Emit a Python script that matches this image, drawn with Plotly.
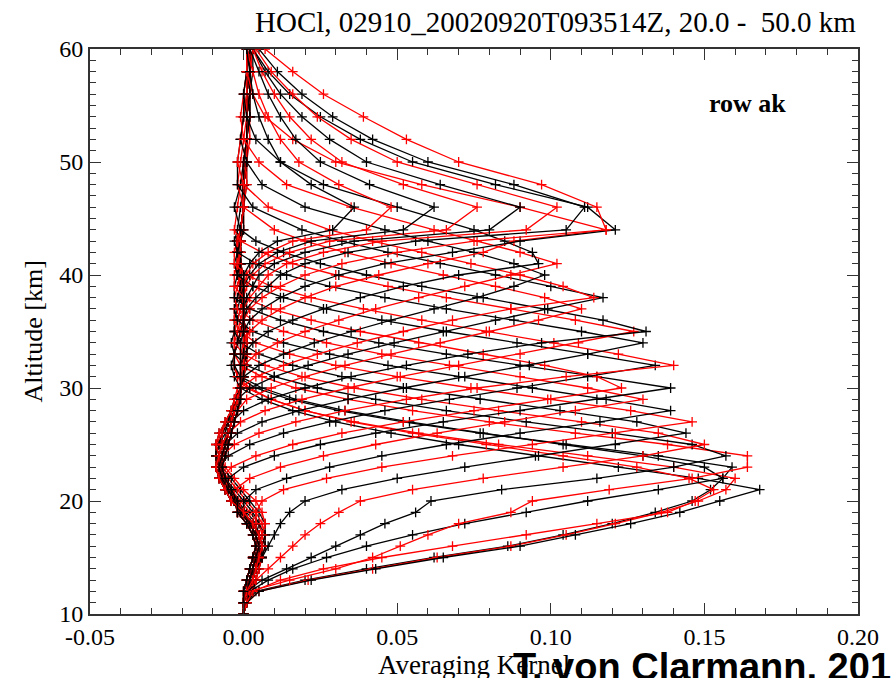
import plotly.graph_objects as go

# Altitude grid [km]: 1 km steps to 44 km, 2 km steps above
altitude = [10, 11, 12, 13, 14, 15, 16, 17, 18, 19,
            20, 21, 22, 23, 24, 25, 26, 27, 28, 29,
            30, 31, 32, 33, 34, 35, 36, 37, 38, 39,
            40, 41, 42, 43, 44,
            46, 48, 50, 52, 54, 56, 58, 60]

# Averaging kernel rows (values at each altitude above)
row_10 = [0.000, 0.001, 0.002, 0.003, 0.004, 0.005, 0.005, 0.004, 0.002, 0.000,
          -0.002, -0.004, -0.006, -0.007, -0.007, -0.006, -0.005, -0.004, -0.003, -0.002,
          -0.001, 0.000, 0.000, 0.000, 0.000, 0.000, 0.000, 0.000, -0.001, -0.001,
          -0.001, -0.001, -0.001, -0.001, -0.001,
          0.000, 0.000, 0.000, 0.001, 0.001, 0.001, 0.001, 0.001]
row_11 = [0.000, 0.001, 0.003, 0.004, 0.005, 0.006, 0.006, 0.005, 0.003, 0.000,
          -0.002, -0.005, -0.007, -0.008, -0.008, -0.007, -0.005, -0.004, -0.003, -0.002,
          -0.001, 0.000, 0.000, 0.001, 0.001, 0.000, 0.000, 0.000, -0.001, -0.001,
          -0.001, -0.002, -0.002, -0.001, -0.001,
          0.000, 0.000, 0.001, 0.001, 0.001, 0.001, 0.002, 0.002]
row_12 = [0.000, 0.001, 0.003, 0.004, 0.005, 0.006, 0.006, 0.005, 0.004, 0.001,
          -0.002, -0.005, -0.008, -0.009, -0.009, -0.008, -0.006, -0.005, -0.003, -0.002,
          -0.001, 0.000, 0.001, 0.001, 0.001, 0.001, 0.000, 0.000, -0.001, -0.001,
          -0.002, -0.002, -0.002, -0.002, -0.001,
          0.000, 0.001, 0.001, 0.001, 0.002, 0.002, 0.002, 0.002]
row_13 = [0.000, 0.001, 0.002, 0.004, 0.005, 0.006, 0.007, 0.006, 0.005, 0.002,
          -0.001, -0.004, -0.007, -0.009, -0.009, -0.008, -0.007, -0.005, -0.004, -0.002,
          -0.001, 0.000, 0.001, 0.001, 0.001, 0.001, 0.000, 0.000, -0.001, -0.001,
          -0.002, -0.002, -0.002, -0.002, -0.001,
          0.000, 0.001, 0.001, 0.002, 0.002, 0.002, 0.002, 0.002]
row_14 = [0.000, 0.001, 0.002, 0.003, 0.004, 0.006, 0.007, 0.007, 0.005, 0.003,
          0.000, -0.003, -0.006, -0.008, -0.009, -0.008, -0.007, -0.005, -0.004, -0.002,
          -0.001, 0.000, 0.000, 0.001, 0.001, 0.001, 0.000, 0.000, -0.001, -0.001,
          -0.001, -0.002, -0.002, -0.002, -0.001,
          0.000, 0.000, 0.001, 0.001, 0.002, 0.002, 0.002, 0.003]
row_15 = [0.000, 0.000, 0.001, 0.002, 0.003, 0.005, 0.006, 0.007, 0.006, 0.004,
          0.001, -0.002, -0.005, -0.008, -0.009, -0.009, -0.007, -0.006, -0.004, -0.003,
          -0.001, 0.000, 0.000, 0.001, 0.001, 0.001, 0.000, 0.000, -0.001, -0.001,
          -0.001, -0.002, -0.002, -0.002, -0.001,
          0.000, 0.000, 0.001, 0.001, 0.001, 0.002, 0.002, 0.003]
row_16 = [0.000, 0.000, 0.001, 0.002, 0.003, 0.004, 0.006, 0.007, 0.007, 0.005,
          0.002, -0.001, -0.004, -0.007, -0.009, -0.009, -0.008, -0.006, -0.004, -0.003,
          -0.001, 0.000, 0.000, 0.001, 0.001, 0.000, 0.000, 0.000, -0.001, -0.001,
          -0.001, -0.001, -0.002, -0.002, -0.001,
          0.000, 0.000, 0.001, 0.001, 0.002, 0.002, 0.003, 0.003]
row_17 = [0.000, 0.000, 0.001, 0.002, 0.003, 0.004, 0.005, 0.006, 0.007, 0.006,
          0.004, 0.000, -0.003, -0.006, -0.008, -0.009, -0.008, -0.006, -0.004, -0.003,
          -0.002, 0.000, 0.000, 0.000, 0.001, 0.000, 0.000, 0.000, 0.000, -0.001,
          -0.001, -0.001, -0.002, -0.002, -0.001,
          0.000, 0.000, 0.001, 0.001, 0.001, 0.002, 0.002, 0.003]
row_18 = [0.000, 0.001, 0.004, 0.020, 0.040, 0.062, 0.086, 0.104, 0.120, 0.134,
          0.146, 0.152, 0.156, 0.159, 0.135, 0.105, 0.077, 0.052, 0.031, 0.015,
          0.004, -0.002, -0.003, -0.003, -0.002, -0.001, 0.000, 0.000, 0.000, 0.000,
          0.000, -0.001, -0.001, -0.001, -0.001,
          0.000, 0.000, 0.001, 0.001, 0.001, 0.001, 0.002, 0.002]
row_19 = [0.000, 0.001, 0.005, 0.021, 0.042, 0.063, 0.087, 0.105, 0.121, 0.136,
          0.148, 0.157, 0.160, 0.140, 0.112, 0.083, 0.057, 0.036, 0.020, 0.009,
          0.001, -0.002, -0.003, -0.003, -0.002, -0.001, 0.000, 0.000, 0.000, 0.000,
          0.000, -0.001, -0.001, -0.001, 0.000,
          0.000, 0.000, 0.000, 0.001, 0.001, 0.001, 0.001, 0.001]
row_20 = [0.000, 0.001, 0.005, 0.022, 0.043, 0.065, 0.090, 0.108, 0.126, 0.142,
          0.155, 0.168, 0.148, 0.122, 0.095, 0.070, 0.048, 0.030, 0.016, 0.006,
          -0.001, -0.003, -0.004, -0.003, -0.002, -0.001, 0.000, 0.000, 0.000, 0.000,
          -0.001, -0.001, -0.001, -0.001, 0.000,
          0.000, 0.000, 0.001, 0.001, 0.001, 0.001, 0.002, 0.002]
row_21 = [0.000, 0.001, 0.003, 0.012, 0.026, 0.045, 0.068, 0.092, 0.115, 0.138,
          0.147, 0.153, 0.145, 0.128, 0.104, 0.079, 0.055, 0.035, 0.020, 0.009,
          0.002, -0.002, -0.003, -0.003, -0.002, -0.001, 0.000, 0.000, 0.000, 0.000,
          -0.001, -0.001, -0.002, -0.001, -0.001,
          0.000, 0.000, 0.001, 0.001, 0.001, 0.001, 0.002, 0.002]
row_22 = [0.000, 0.000, 0.002, 0.008, 0.016, 0.027, 0.040, 0.055, 0.072, 0.092,
          0.112, 0.135, 0.156, 0.150, 0.130, 0.104, 0.078, 0.054, 0.033, 0.017,
          0.006, -0.001, -0.003, -0.003, -0.002, -0.001, 0.000, 0.000, 0.000, 0.000,
          -0.001, -0.001, -0.002, -0.002, -0.001,
          0.000, 0.000, 0.001, 0.001, 0.001, 0.002, 0.002, 0.002]
row_23 = [0.000, 0.000, 0.002, 0.015, 0.030, 0.042, 0.051, 0.060, 0.070, 0.087,
          0.094, 0.119, 0.146, 0.164, 0.164, 0.138, 0.108, 0.080, 0.055, 0.034,
          0.017, 0.006, -0.001, -0.003, -0.003, -0.002, -0.001, 0.000, 0.000, 0.000,
          -0.001, -0.001, -0.002, -0.002, -0.001,
          0.000, 0.000, 0.001, 0.001, 0.001, 0.002, 0.002, 0.002]
row_24 = [0.000, 0.000, 0.001, 0.006, 0.014, 0.022, 0.030, 0.038, 0.046, 0.056,
          0.061, 0.084, 0.115, 0.140, 0.157, 0.146, 0.120, 0.092, 0.066, 0.043,
          0.024, 0.010, 0.001, -0.003, -0.004, -0.003, -0.002, -0.001, 0.000, 0.000,
          -0.001, -0.001, -0.002, -0.002, -0.001,
          0.000, 0.000, 0.001, 0.001, 0.001, 0.002, 0.002, 0.002]
row_25 = [0.000, 0.000, 0.001, 0.004, 0.008, 0.012, 0.016, 0.020, 0.025, 0.031,
          0.038, 0.055, 0.078, 0.104, 0.130, 0.150, 0.135, 0.110, 0.083, 0.058,
          0.036, 0.019, 0.007, 0.000, -0.003, -0.003, -0.002, -0.001, 0.000, 0.000,
          -0.001, -0.001, -0.002, -0.002, -0.001,
          0.000, 0.000, 0.000, 0.001, 0.001, 0.001, 0.002, 0.002]
row_26 = [0.000, 0.000, 0.000, 0.002, 0.004, 0.006, 0.008, 0.010, 0.012, 0.015,
          0.020, 0.032, 0.050, 0.072, 0.096, 0.121, 0.144, 0.128, 0.103, 0.077,
          0.053, 0.032, 0.016, 0.005, -0.001, -0.003, -0.003, -0.002, -0.001, 0.000,
          -0.001, -0.001, -0.002, -0.002, -0.001,
          0.000, 0.000, 0.001, 0.001, 0.001, 0.001, 0.002, 0.002]
row_27 = [0.000, 0.000, 0.000, 0.001, 0.002, 0.003, 0.004, 0.004, 0.004, 0.004,
          0.006, 0.013, 0.027, 0.045, 0.068, 0.094, 0.121, 0.146, 0.126, 0.100,
          0.074, 0.050, 0.030, 0.015, 0.004, -0.001, -0.003, -0.003, -0.002, -0.001,
          -0.001, -0.001, -0.002, -0.002, -0.001,
          0.000, 0.000, 0.001, 0.001, 0.001, 0.002, 0.002, 0.002]
row_28 = [0.000, 0.000, 0.001, 0.002, 0.003, 0.004, 0.005, 0.004, 0.002, 0.000,
          0.000, 0.004, 0.014, 0.028, 0.045, 0.066, 0.090, 0.116, 0.139, 0.118,
          0.094, 0.070, 0.047, 0.028, 0.013, 0.003, -0.002, -0.003, -0.002, -0.001,
          -0.001, -0.001, -0.002, -0.002, -0.001,
          0.000, 0.000, 0.000, 0.001, 0.001, 0.001, 0.001, 0.002]
row_29 = [0.000, 0.000, 0.001, 0.002, 0.003, 0.004, 0.005, 0.004, 0.002, -0.001,
          -0.003, -0.003, 0.002, 0.012, 0.026, 0.043, 0.063, 0.085, 0.108, 0.130,
          0.112, 0.090, 0.067, 0.045, 0.027, 0.013, 0.003, -0.002, -0.003, -0.002,
          -0.001, -0.001, -0.002, -0.002, -0.001,
          0.000, 0.000, 0.001, 0.001, 0.001, 0.002, 0.002, 0.002]
row_30 = [0.000, 0.000, 0.001, 0.003, 0.004, 0.005, 0.006, 0.005, 0.003, 0.000,
          -0.003, -0.005, -0.005, 0.000, 0.010, 0.025, 0.043, 0.065, 0.090, 0.115,
          0.139, 0.115, 0.090, 0.066, 0.044, 0.026, 0.012, 0.002, -0.003, -0.003,
          -0.002, -0.001, -0.001, -0.001, -0.001,
          0.000, 0.000, 0.001, 0.001, 0.001, 0.002, 0.002, 0.002]
row_31 = [0.000, 0.000, 0.000, 0.001, 0.002, 0.003, 0.004, 0.003, 0.001, -0.002,
          -0.003, -0.005, -0.007, -0.004, 0.004, 0.016, 0.032, 0.052, 0.075, 0.099,
          0.123, 0.115, 0.098, 0.078, 0.057, 0.038, 0.022, 0.009, 0.000, -0.003,
          -0.003, -0.002, -0.001, -0.001, -0.001,
          0.000, 0.000, 0.000, 0.001, 0.001, 0.001, 0.002, 0.002]
row_32 = [0.000, 0.000, 0.001, 0.002, 0.003, 0.004, 0.005, 0.004, 0.002, -0.001,
          -0.003, -0.005, -0.007, -0.008, -0.005, 0.002, 0.013, 0.028, 0.046, 0.067,
          0.089, 0.112, 0.134, 0.112, 0.089, 0.066, 0.045, 0.027, 0.013, 0.003,
          -0.002, -0.003, -0.002, -0.001, -0.001,
          0.000, 0.000, 0.001, 0.001, 0.001, 0.002, 0.002, 0.002]
row_33 = [0.000, 0.000, 0.001, 0.003, 0.004, 0.005, 0.006, 0.005, 0.003, 0.000,
          -0.004, -0.006, -0.008, -0.009, -0.007, -0.003, 0.005, 0.017, 0.033, 0.053,
          0.076, 0.105, 0.140, 0.122, 0.101, 0.079, 0.058, 0.039, 0.022, 0.009,
          0.001, -0.003, -0.003, -0.002, -0.001,
          0.000, 0.000, 0.001, 0.001, 0.001, 0.001, 0.002, 0.002]
row_34 = [0.000, 0.000, 0.000, 0.001, 0.002, 0.003, 0.004, 0.003, 0.001, -0.002,
          -0.003, -0.005, -0.007, -0.008, -0.007, -0.006, -0.002, 0.006, 0.018, 0.034,
          0.052, 0.072, 0.093, 0.112, 0.130, 0.110, 0.088, 0.066, 0.046, 0.028,
          0.014, 0.004, -0.002, -0.003, -0.002,
          -0.001, 0.000, 0.000, 0.001, 0.001, 0.001, 0.001, 0.002]
row_35 = [0.000, 0.000, 0.001, 0.002, 0.003, 0.004, 0.005, 0.004, 0.002, -0.001,
          -0.003, -0.005, -0.007, -0.008, -0.007, -0.006, -0.005, -0.001, 0.007, 0.019,
          0.034, 0.051, 0.070, 0.090, 0.109, 0.127, 0.108, 0.087, 0.066, 0.047,
          0.030, 0.016, 0.006, -0.001, -0.003,
          -0.002, -0.001, 0.000, 0.001, 0.001, 0.001, 0.002, 0.002]
row_36 = [0.000, 0.000, 0.001, 0.003, 0.004, 0.005, 0.006, 0.005, 0.003, 0.000,
          -0.004, -0.006, -0.008, -0.009, -0.008, -0.007, -0.005, -0.004, 0.000, 0.008,
          0.020, 0.035, 0.053, 0.073, 0.097, 0.131, 0.117, 0.098, 0.078, 0.058,
          0.040, 0.025, 0.013, 0.004, -0.001,
          -0.003, -0.001, 0.000, 0.001, 0.001, 0.001, 0.002, 0.002]
row_37 = [0.000, 0.000, 0.000, 0.001, 0.002, 0.003, 0.004, 0.003, 0.001, -0.002,
          -0.002, -0.004, -0.006, -0.007, -0.006, -0.005, -0.004, -0.003, -0.002, 0.001,
          0.009, 0.020, 0.033, 0.048, 0.064, 0.080, 0.096, 0.110, 0.098, 0.082,
          0.065, 0.048, 0.033, 0.020, 0.010,
          0.000, -0.002, -0.001, 0.000, 0.001, 0.001, 0.001, 0.002]
row_38 = [0.000, 0.000, 0.001, 0.002, 0.003, 0.004, 0.005, 0.004, 0.002, -0.001,
          -0.003, -0.005, -0.007, -0.008, -0.007, -0.006, -0.005, -0.004, -0.003, -0.002,
          0.002, 0.010, 0.021, 0.034, 0.049, 0.065, 0.082, 0.099, 0.117, 0.100,
          0.082, 0.064, 0.047, 0.032, 0.019,
          0.003, -0.002, -0.002, -0.001, 0.000, 0.001, 0.001, 0.002]
row_39 = [0.000, 0.000, 0.001, 0.003, 0.004, 0.005, 0.006, 0.005, 0.003, 0.000,
          -0.004, -0.006, -0.008, -0.009, -0.008, -0.007, -0.005, -0.004, -0.003, -0.002,
          -0.001, 0.004, 0.013, 0.024, 0.037, 0.052, 0.068, 0.087, 0.114, 0.104,
          0.090, 0.074, 0.058, 0.042, 0.028,
          0.008, 0.000, -0.002, -0.001, 0.000, 0.001, 0.001, 0.002]
row_40 = [0.000, 0.000, 0.000, 0.001, 0.002, 0.003, 0.004, 0.003, 0.001, -0.002,
          -0.002, -0.004, -0.006, -0.007, -0.006, -0.005, -0.004, -0.003, -0.002, -0.001,
          -0.001, 0.000, 0.005, 0.013, 0.023, 0.035, 0.048, 0.062, 0.076, 0.088,
          0.098, 0.088, 0.075, 0.060, 0.046,
          0.020, 0.006, 0.001, -0.001, 0.000, 0.000, 0.001, 0.001]
row_41 = [0.000, 0.000, 0.001, 0.002, 0.003, 0.004, 0.005, 0.004, 0.002, -0.001,
          -0.003, -0.005, -0.007, -0.008, -0.007, -0.006, -0.005, -0.004, -0.003, -0.002,
          -0.001, 0.000, 0.000, 0.004, 0.011, 0.020, 0.031, 0.043, 0.057, 0.072,
          0.087, 0.102, 0.090, 0.076, 0.062,
          0.035, 0.014, 0.005, 0.000, -0.001, 0.000, 0.001, 0.001]
row_42 = [0.000, 0.000, 0.001, 0.003, 0.004, 0.005, 0.006, 0.005, 0.003, 0.000,
          -0.004, -0.006, -0.008, -0.009, -0.008, -0.007, -0.005, -0.004, -0.003, -0.002,
          -0.001, 0.000, 0.000, 0.000, 0.003, 0.008, 0.016, 0.026, 0.038, 0.052,
          0.070, 0.096, 0.094, 0.085, 0.075,
          0.050, 0.026, 0.012, 0.004, 0.001, 0.000, 0.001, 0.001]
row_43 = [0.000, 0.000, 0.000, 0.001, 0.002, 0.003, 0.004, 0.003, 0.001, -0.002,
          -0.002, -0.004, -0.006, -0.007, -0.006, -0.005, -0.004, -0.003, -0.002, -0.001,
          -0.001, 0.000, 0.000, 0.000, 0.000, 0.002, 0.006, 0.012, 0.020, 0.030,
          0.044, 0.060, 0.078, 0.088, 0.118,
          0.090, 0.058, 0.030, 0.016, 0.007, 0.003, 0.001, 0.001]
row_44 = [0.000, 0.000, 0.001, 0.002, 0.003, 0.004, 0.005, 0.004, 0.002, -0.001,
          -0.003, -0.005, -0.007, -0.008, -0.007, -0.006, -0.005, -0.004, -0.003, -0.002,
          -0.001, 0.000, 0.000, 0.000, 0.000, 0.000, 0.002, 0.006, 0.012, 0.020,
          0.031, 0.046, 0.068, 0.090, 0.121,
          0.112, 0.082, 0.055, 0.038, 0.025, 0.015, 0.008, 0.003]
row_46 = [0.000, 0.000, 0.001, 0.003, 0.004, 0.005, 0.006, 0.005, 0.003, 0.000,
          -0.004, -0.006, -0.008, -0.009, -0.008, -0.007, -0.005, -0.004, -0.003, -0.002,
          -0.001, 0.000, 0.000, 0.000, 0.000, 0.000, 0.000, 0.002, 0.006, 0.012,
          0.020, 0.032, 0.050, 0.075, 0.118,
          0.115, 0.097, 0.070, 0.053, 0.039, 0.026, 0.016, 0.007]
row_48 = [0.000, 0.000, 0.000, 0.001, 0.002, 0.003, 0.004, 0.003, 0.001, -0.002,
          -0.002, -0.004, -0.006, -0.007, -0.006, -0.005, -0.004, -0.003, -0.002, -0.001,
          -0.001, 0.000, 0.000, 0.000, 0.000, 0.000, 0.000, 0.001, 0.004, 0.008,
          0.012, 0.020, 0.034, 0.056, 0.105,
          0.111, 0.088, 0.060, 0.042, 0.029, 0.019, 0.011, 0.005]
row_50 = [0.000, 0.000, 0.001, 0.002, 0.003, 0.004, 0.005, 0.004, 0.002, -0.001,
          -0.003, -0.005, -0.007, -0.008, -0.007, -0.006, -0.005, -0.004, -0.003, -0.002,
          -0.001, 0.000, 0.000, 0.000, 0.000, 0.000, 0.000, 0.000, 0.002, 0.005,
          0.008, 0.014, 0.026, 0.045, 0.092,
          0.102, 0.076, 0.050, 0.035, 0.024, 0.016, 0.009, 0.004]
row_52 = [0.000, 0.000, 0.001, 0.003, 0.004, 0.005, 0.006, 0.005, 0.003, 0.000,
          -0.004, -0.006, -0.008, -0.009, -0.008, -0.007, -0.005, -0.004, -0.003, -0.002,
          -0.001, 0.000, 0.000, 0.000, 0.000, 0.000, 0.000, 0.000, 0.001, 0.003,
          0.005, 0.010, 0.020, 0.036, 0.080,
          0.090, 0.064, 0.040, 0.028, 0.019, 0.012, 0.007, 0.003]
row_54 = [0.000, 0.000, 0.000, 0.001, 0.002, 0.003, 0.004, 0.003, 0.001, -0.002,
          -0.002, -0.004, -0.006, -0.007, -0.006, -0.005, -0.004, -0.003, -0.002, -0.001,
          -0.001, -0.001, 0.000, 0.000, 0.000, 0.000, 0.000, 0.000, 0.000, 0.001,
          0.003, 0.007, 0.015, 0.028, 0.066,
          0.076, 0.052, 0.032, 0.022, 0.015, 0.010, 0.006, 0.003]
row_56 = [0.000, 0.000, 0.001, 0.002, 0.003, 0.004, 0.005, 0.004, 0.002, -0.001,
          -0.003, -0.005, -0.007, -0.008, -0.007, -0.006, -0.005, -0.004, -0.003, -0.002,
          -0.001, -0.001, -0.001, 0.000, 0.000, 0.000, 0.000, 0.000, 0.000, 0.000,
          0.002, 0.005, 0.011, 0.022, 0.052,
          0.062, 0.041, 0.025, 0.017, 0.012, 0.008, 0.005, 0.002]
row_58 = [0.000, 0.000, 0.001, 0.003, 0.004, 0.005, 0.006, 0.005, 0.003, 0.000,
          -0.004, -0.006, -0.008, -0.009, -0.008, -0.007, -0.005, -0.004, -0.003, -0.002,
          -0.001, -0.001, -0.001, -0.001, 0.000, 0.000, 0.000, 0.000, 0.000, 0.000,
          0.001, 0.003, 0.008, 0.016, 0.040,
          0.048, 0.031, 0.018, 0.012, 0.008, 0.005, 0.003, 0.001]
row_60 = [0.000, 0.000, 0.000, 0.001, 0.002, 0.003, 0.004, 0.003, 0.001, -0.002,
          -0.002, -0.004, -0.006, -0.007, -0.006, -0.005, -0.004, -0.003, -0.002, -0.001,
          -0.001, -0.001, -0.001, -0.001, -0.001, 0.000, 0.000, 0.000, 0.000, 0.000,
          0.000, 0.002, 0.005, 0.011, 0.029,
          0.036, 0.022, 0.012, 0.008, 0.005, 0.003, 0.002, 0.001]

rows = [row_10, row_11, row_12, row_13, row_14, row_15, row_16, row_17, row_18, row_19,
        row_20, row_21, row_22, row_23, row_24, row_25, row_26, row_27, row_28, row_29,
        row_30, row_31, row_32, row_33, row_34, row_35, row_36, row_37, row_38, row_39,
        row_40, row_41, row_42, row_43, row_44,
        row_46, row_48, row_50, row_52, row_54, row_56, row_58, row_60]

BLACK = "#000000"
RED = "#ff0000"
row_colors = [BLACK, RED] * 17 + [BLACK] + [RED, BLACK] * 4

x_tickvals = [-0.05, 0.00, 0.05, 0.10, 0.15, 0.20]
x_ticktext = ["-0.05", "0.00", "0.05", "0.10", "0.15", "0.20"]
y_tickvals = [10, 20, 30, 40, 50, 60]
y_ticktext = ["10", "20", "30", "40", "50", "60"]

for r in rows:
    assert len(r) == len(altitude), len(r)

SERIF = "Liberation Serif, Times New Roman, serif"

fig = go.Figure()
for r, c in zip(rows, row_colors):
    fig.add_trace(go.Scatter(
        x=r, y=altitude, mode="lines+markers",
        line=dict(color=c, width=1.3),
        marker=dict(symbol="cross-thin", size=7, line=dict(color=c, width=1.3)),
        showlegend=False, hoverinfo="skip"))

axis_common = dict(
    showgrid=False, zeroline=False, showline=True, linecolor="#333333", linewidth=1.8,
    mirror="ticks", ticks="inside", ticklen=11, tickwidth=1.4, tickcolor="#333333",
    tickfont=dict(family=SERIF, size=24, color="black"),
)

fig.update_xaxes(range=[-0.05, 0.20], tickmode="array", tickvals=x_tickvals, ticktext=x_ticktext,
                 minor=dict(ticks="inside", ticklen=6, tickwidth=1.2, tickcolor="#333333",
                            tickmode="linear", tick0=0, dtick=0.01),
                 **axis_common)
fig.update_yaxes(range=[10, 60], tickmode="array", tickvals=y_tickvals, ticktext=y_ticktext,
                 minor=dict(ticks="inside", ticklen=6, tickwidth=1.2, tickcolor="#333333",
                            tickmode="linear", tick0=0, dtick=1),
                 **axis_common)

fig.update_layout(
    width=891, height=678,
    margin=dict(l=90, r=29, t=49, b=64),
    paper_bgcolor="white", plot_bgcolor="white",
    annotations=[
        dict(text="HOCl, 02910_20020920T093514Z, 20.0 -\u00a0 50.0 km", xref="paper", yref="paper",
             x=0.6056, y=1.048, xanchor="center", yanchor="middle", showarrow=False,
             font=dict(family=SERIF, size=29, color="black")),
        dict(text="<b>row ak</b>", xref="paper", yref="paper", x=0.856, y=0.904,
             xanchor="center", yanchor="middle", showarrow=False,
             font=dict(family=SERIF, size=26, color="black")),
        dict(text="Averaging Kernel", xref="paper", yref="paper", x=0.5, y=-0.090,
             xanchor="center", yanchor="middle", showarrow=False,
             font=dict(family=SERIF, size=27, color="black")),
        dict(text="Altitude [km]", xref="paper", yref="paper", x=-0.073, y=0.5,
             xanchor="center", yanchor="middle", textangle=-90, showarrow=False,
             font=dict(family=SERIF, size=26, color="black")),
        dict(text="<b>T. von Clarmann, 2015</b>", xref="paper", yref="paper", x=0.548, y=-0.0938,
             xanchor="left", yanchor="middle", showarrow=False,
             font=dict(family="Liberation Sans, Arial, sans-serif", size=38, color="black")),
    ],
)

fig.write_html("out.html")
